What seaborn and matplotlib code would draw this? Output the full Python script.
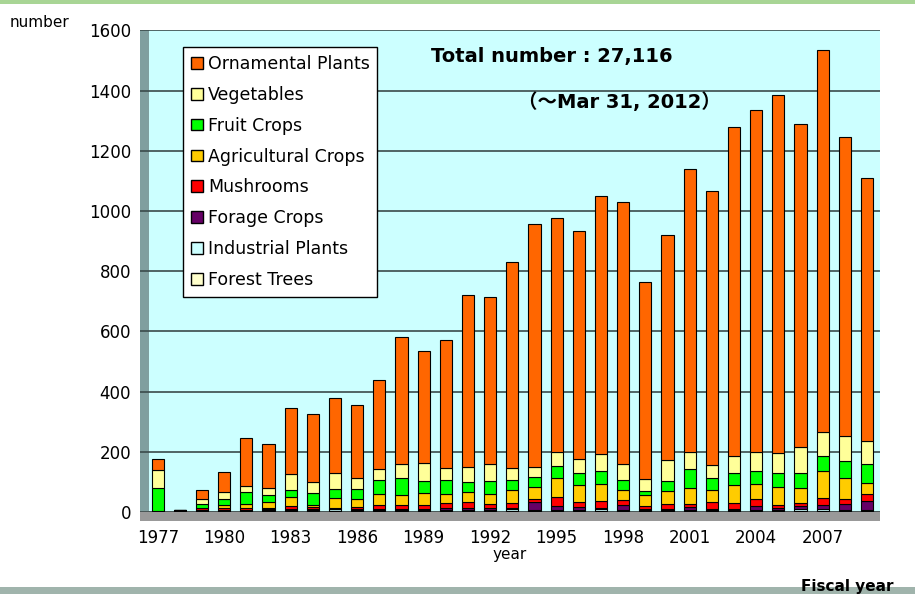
import matplotlib.pyplot as plt
import matplotlib.patches as mpatches
import seaborn as sns
import pandas as pd

years = list(range(1977, 2010))

# values per category, bottom of the stack first
forest_trees = [3, 1, 3, 3, 3, 3, 4, 4, 4, 4, 4, 3, 4, 4, 3, 4, 3, 3, 3, 3, 4, 3, 3, 3, 3, 3, 3, 3, 3, 3, 3, 3, 3]
industrial = [0, 0, 2, 2, 3, 3, 3, 3, 5, 3, 3, 5, 3, 3, 3, 3, 6, 5, 3, 3, 6, 5, 3, 5, 3, 5, 5, 3, 3, 6, 6, 3, 4]
forage = [0, 2, 3, 2, 2, 3, 4, 3, 2, 4, 4, 2, 4, 5, 8, 5, 3, 25, 15, 11, 5, 14, 3, 3, 11, 3, 3, 14, 8, 11, 14, 20, 29]
mushrooms = [0, 4, 4, 5, 4, 6, 8, 6, 3, 5, 11, 14, 13, 17, 19, 14, 19, 11, 28, 17, 22, 17, 11, 17, 11, 22, 20, 22, 8, 11, 25, 17, 24]
agricultural = [2, 0, 3, 11, 14, 17, 30, 9, 33, 28, 39, 31, 39, 30, 33, 33, 42, 39, 63, 55, 55, 35, 37, 42, 52, 41, 58, 50, 61, 50, 87, 70, 37]
fruit = [75, 0, 11, 20, 39, 24, 25, 39, 28, 33, 44, 58, 39, 48, 33, 44, 35, 33, 40, 39, 44, 33, 14, 33, 62, 40, 41, 44, 47, 50, 50, 55, 63]
vegetables = [60, 0, 17, 24, 22, 25, 53, 35, 55, 35, 39, 48, 61, 39, 51, 55, 37, 33, 47, 48, 58, 53, 38, 71, 58, 41, 55, 63, 66, 85, 81, 85, 75]
ornamental = [35, 0, 30, 66, 160, 144, 218, 226, 250, 243, 296, 419, 372, 424, 570, 557, 685, 806, 776, 759, 856, 870, 656, 746, 940, 910, 1095, 1136, 1189, 1074, 1269, 992, 875]

categories = ['Ornamental Plants', 'Vegetables', 'Fruit Crops', 'Agricultural Crops',
              'Mushrooms', 'Forage Crops', 'Industrial Plants', 'Forest Trees']
series = [ornamental, vegetables, fruit, agricultural, mushrooms, forage, industrial, forest_trees]
colors = ['#FF6600', '#FFFF99', '#00FF00', '#FFCC00', '#FF0000', '#660066', '#CCFFFF', '#FFFFCC']
palette = dict(zip(categories, colors))

df = pd.concat([pd.DataFrame({'year': years, 'count': vals, 'category': cat})
                for cat, vals in zip(categories, series)], ignore_index=True)

sns.set_style('white')
plt.rcParams['font.family'] = ['DejaVu Sans', 'Noto Sans CJK JP']
plt.rcParams['text.color'] = 'black'
plt.rcParams['axes.labelcolor'] = 'black'
plt.rcParams['xtick.color'] = 'black'
plt.rcParams['ytick.color'] = 'black'

fig = plt.figure(figsize=(9.15, 5.94), dpi=100)
ax = fig.add_axes([0.153, 0.138, 0.809, 0.811])
ax.set_facecolor('#CCFFFF')

# first hue level ends on top of the stack
sns.histplot(data=df, x='year', weights='count', hue='category', hue_order=categories,
             multiple='stack', discrete=True, shrink=0.55, palette=palette,
             edgecolor='black', linewidth=0.8, alpha=1, legend=False, ax=ax)

ax.set_xlim(1977 - 0.8, 2009 + 0.6)
ax.set_ylim(0, 1600)
ax.set_yticks(range(0, 1601, 200))
ax.set_xticks(range(1977, 2010, 3))
ax.tick_params(axis='y', labelsize=12, length=3, color='#333333')
ax.tick_params(axis='x', labelsize=12, length=0, pad=12)
ax.grid(axis='y', color='#3a4a4a', linewidth=1.2)
ax.set_axisbelow(True)
for s in ax.spines.values():
    s.set_visible(False)
ax.set_xlabel('year', fontsize=11, labelpad=0)
ax.set_ylabel('')

# 3d-ish wall and floor
ax.add_patch(mpatches.Rectangle((0, 0), 0.012, 1, transform=ax.transAxes,
                                facecolor='#809f9f', edgecolor='none', zorder=0.5))
ax.add_patch(mpatches.Rectangle((0, -0.018), 1, 0.02, transform=ax.transAxes,
                                facecolor='#999999', edgecolor='none', clip_on=False, zorder=0.5))

handles = [mpatches.Patch(facecolor=c, edgecolor='black', label=l) for l, c in zip(categories, colors)]
leg = ax.legend(handles=handles, loc='upper left', bbox_to_anchor=(0.047, 0.983),
                fontsize=12.5, frameon=True, fancybox=False, edgecolor='black',
                handlelength=0.65, handleheight=0.65, handletextpad=0.3,
                labelspacing=0.74, borderpad=0.45, framealpha=1)
leg.get_frame().set_linewidth(1)

ax.text(0.393, 0.945, 'Total number : 27,116', transform=ax.transAxes,
        fontsize=14, fontweight='bold', va='center')
ax.text(0.51, 0.85, '（～Mar 31, 2012）', transform=ax.transAxes,
        fontsize=14, fontweight='bold', va='center')

fig.text(0.011, 0.962, 'number', fontsize=11, va='center')
fig.text(0.875, 0.013, 'Fiscal year', fontsize=11, fontweight='bold', va='center')

# top and bottom bands
fig.patches.append(mpatches.Rectangle((0, 0.993), 1, 0.007, transform=fig.transFigure,
                                      facecolor='#a8d595', edgecolor='none'))
fig.patches.append(mpatches.Rectangle((0, 0), 1, 0.012, transform=fig.transFigure,
                                      facecolor='#a0b4ac', edgecolor='none', zorder=-1))

fig.savefig('out.png', dpi=100)
